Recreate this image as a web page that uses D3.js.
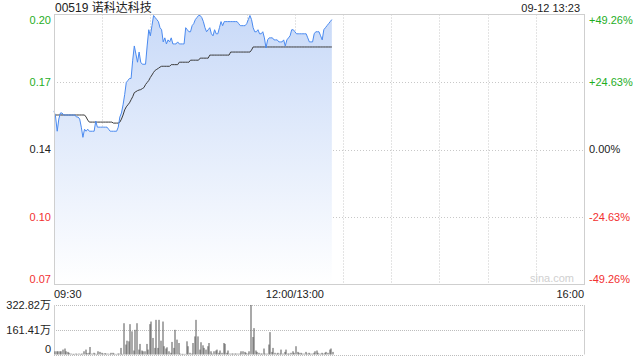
<!DOCTYPE html>
<html>
<head>
<meta charset="utf-8">
<script src="https://cdn.jsdelivr.net/npm/d3@7"></script>
<style>
  body { margin: 0; background: #fff; }
  svg text { font-family: "Liberation Sans", Arial, "Noto Sans CJK SC", sans-serif; }
</style>
</head>
<body>
<div id="chart"></div>
<script>
// chart values
const title = "00519 诺科达科技";
const stamp = "09-12 13:23";
const prevClose = 0.135;

const priceTicks = [0.2015, 0.16825, 0.135, 0.10175, 0.0685];
const priceLabels = ["0.20", "0.17", "0.14", "0.10", "0.07"];
const pctLabels = ["+49.26%", "+24.63%", "0.00%", "-24.63%", "-49.26%"];

const timeTicks = [0, 150, 330];
const timeLabels = ["09:30", "12:00/13:00", "16:00"];

const volTicks = [322.82, 161.41, 0];
const volLabels = ["322.82万", "161.41万", "0"];

// one value per minute from 09:30
const price = [
  0.154, 0.151, 0.144, 0.150, 0.153, 0.153, 0.152, 0.152, 0.152, 0.152,
  0.152, 0.152, 0.152, 0.152, 0.151, 0.151, 0.150, 0.146, 0.141, 0.145,
  0.144, 0.145, 0.144, 0.144, 0.144, 0.144, 0.149, 0.146, 0.146, 0.146,
  0.146, 0.146, 0.146, 0.146, 0.145, 0.144, 0.144, 0.144, 0.144, 0.144,
  0.146, 0.151, 0.153, 0.157, 0.162, 0.168, 0.169, 0.170, 0.170, 0.179,
  0.186, 0.182, 0.178, 0.183, 0.178, 0.177, 0.177, 0.177, 0.186, 0.194,
  0.191, 0.196, 0.201, 0.200, 0.199, 0.198, 0.195, 0.194, 0.188, 0.190,
  0.187, 0.189, 0.188, 0.190, 0.187, 0.187, 0.187, 0.188, 0.187, 0.187,
  0.187, 0.187, 0.195, 0.194, 0.193, 0.193, 0.196, 0.197, 0.199, 0.200,
  0.201, 0.201, 0.200, 0.198, 0.195, 0.193, 0.194, 0.195, 0.192, 0.191,
  0.194, 0.192, 0.192, 0.195, 0.198, 0.196, 0.198, 0.198, 0.198, 0.198,
  0.198, 0.198, 0.198, 0.198, 0.198, 0.197, 0.196, 0.196, 0.196, 0.196,
  0.197, 0.199, 0.201, 0.199, 0.195, 0.193, 0.193, 0.194, 0.192, 0.192,
  0.193, 0.190, 0.185, 0.189, 0.190, 0.190, 0.190, 0.189, 0.189, 0.189,
  0.188, 0.188, 0.188, 0.189, 0.186, 0.189, 0.190, 0.191, 0.194, 0.194,
  0.193, 0.192, 0.192, 0.192, 0.192, 0.192, 0.192, 0.192, 0.190, 0.188,
  0.188, 0.188, 0.192, 0.193, 0.193, 0.193, 0.191, 0.189, 0.194, 0.195,
  0.196, 0.197, 0.198, 0.199
];

const avgPrice = [
  0.152, 0.152, 0.152, 0.152, 0.152, 0.152, 0.152, 0.152, 0.152, 0.152,
  0.152, 0.152, 0.152, 0.152, 0.152, 0.152, 0.152, 0.152, 0.152, 0.152,
  0.151, 0.1495, 0.1485, 0.1485, 0.1485, 0.1485, 0.1485, 0.1485, 0.1485, 0.1485,
  0.1485, 0.1485, 0.1485, 0.1485, 0.1485, 0.1485, 0.1485, 0.148, 0.148, 0.148,
  0.148, 0.1485, 0.150, 0.152, 0.1545, 0.156, 0.157, 0.158, 0.1595, 0.161,
  0.163, 0.1635, 0.164, 0.1643, 0.1645, 0.165, 0.1655, 0.167, 0.168, 0.169,
  0.1705, 0.1717, 0.173, 0.174, 0.1745, 0.175, 0.1756, 0.176, 0.176, 0.176,
  0.176, 0.176, 0.176, 0.1768, 0.1768, 0.1768, 0.1768, 0.1768, 0.178, 0.178,
  0.178, 0.178, 0.178, 0.178, 0.178, 0.179, 0.179, 0.179, 0.179, 0.179,
  0.179, 0.180, 0.180, 0.180, 0.180, 0.180, 0.180, 0.1815, 0.1815, 0.1815,
  0.1815, 0.1815, 0.1815, 0.1815, 0.1815, 0.1815, 0.1815, 0.1815, 0.1815, 0.1815,
  0.183, 0.183, 0.183, 0.183, 0.183, 0.183, 0.183, 0.183, 0.183, 0.183,
  0.183, 0.183, 0.183, 0.184, 0.1855, 0.1855, 0.1855, 0.1855, 0.1855, 0.1855,
  0.1855, 0.1855, 0.1855, 0.1855, 0.1855, 0.1855, 0.1855, 0.1855, 0.1855, 0.1855,
  0.1855, 0.1855, 0.1855, 0.1855, 0.1855, 0.1855, 0.1855, 0.1855, 0.1855, 0.1855,
  0.1855, 0.1855, 0.1855, 0.1855, 0.1855, 0.1855, 0.1855, 0.1855, 0.1855, 0.1855,
  0.1855, 0.1855, 0.1855, 0.1855, 0.1855, 0.1855, 0.1855, 0.1855, 0.1855, 0.1855,
  0.1855, 0.1855, 0.1855, 0.1855
];

// volume in 万 shares
const volume = [
  21, 21, 21, 21, 21, 32, 39, 21, 17, 11,
  6, 4, 4, 6, 4, 6, 4, 6, 21, 32,
  9, 11, 49, 6, 11, 6, 4, 21, 17, 11,
  6, 9, 6, 6, 4, 11, 11, 6, 4, 6,
  6, 43, 4, 204, 65, 90, 86, 198, 151, 26,
  161, 204, 32, 69, 26, 21, 21, 69, 32, 198,
  215, 108, 43, 226, 43, 226, 90, 215, 54, 39,
  47, 21, 11, 82, 43, 161, 97, 75, 6, 4,
  4, 4, 86, 54, 11, 6, 75, 118, 226, 118,
  32, 80, 60, 43, 32, 54, 75, 21, 6, 21,
  26, 32, 11, 26, 11, 75, 69, 11, 26, 6,
  6, 6, 6, 6, 6, 6, 21, 21, 17, 11,
  6, 21, 323, 114, 172, 26, 17, 11, 6, 6,
  39, 6, 6, 65, 146, 17, 43, 11, 6, 11,
  6, 32, 6, 17, 32, 6, 6, 11, 21, 11,
  54, 17, 11, 11, 6, 6, 17, 6, 11, 6,
  6, 11, 21, 26, 11, 6, 11, 6, 11, 17,
  11, 32, 39, 17
];

// layout
let width = 640;
let height = 360;
let plotLeft = 54, plotRight = 584;
let plotTop = 14.5, plotBottom = 284.5;
let volTop = 305, volBottom = 354.5;

let green = "#1fae1f", red = "#f23030", grid = "#c8c8c8";

var svg = d3
    .select("#chart")
    .append("svg")
    .attr("width", width)
    .attr("height", height);

let x = d3.scaleLinear().domain([0, 330]).range([plotLeft, plotRight]);
let y = d3.scaleLinear().domain([priceTicks[4], priceTicks[0]]).range([plotBottom, plotTop]);
let yv = d3.scaleLinear().domain([0, volTicks[0]]).range([volBottom, volTop]);

// gradient for the area
let grad = svg.append("defs").append("linearGradient")
    .attr("id", "fillGrad")
    .attr("x1", 0).attr("y1", 0).attr("x2", 0).attr("y2", 1);
grad.append("stop").attr("offset", "0%").attr("stop-color", "#c9daf8");
grad.append("stop").attr("offset", "100%").attr("stop-color", "#ffffff");

// vertical grid every 30 minutes
svg.append("g")
  .selectAll("line")
  .data(d3.range(30, 330, 30))
  .enter().append("line")
  .attr("x1", (d) => Math.round(x(d)) + 0.5).attr("x2", (d) => Math.round(x(d)) + 0.5)
  .attr("y1", plotTop).attr("y2", plotBottom)
  .attr("stroke", grid)
  .attr("stroke-dasharray", "1,2");

// horizontal grid
svg.append("g")
  .selectAll("line")
  .data(priceTicks.slice(1, 4))
  .enter().append("line")
  .attr("x1", plotLeft).attr("x2", plotRight)
  .attr("y1", (d) => Math.round(y(d)) + 0.5).attr("y2", (d) => Math.round(y(d)) + 0.5)
  .attr("stroke", grid)
  .attr("stroke-dasharray", "1,2");

// area + lines
let area = d3.area()
    .x((d, i) => x(i))
    .y0(plotBottom)
    .y1((d) => y(d));

svg.append("path")
  .datum(price)
  .attr("d", area)
  .attr("fill", "url(#fillGrad)");

svg.append("path")
  .datum(avgPrice)
  .attr("d", d3.line().x((d, i) => x(i)).y((d) => y(d)))
  .attr("fill", "none")
  .attr("stroke", "#3b3b3b")
  .attr("stroke-width", 1);

svg.append("path")
  .datum(price)
  .attr("d", d3.line().x((d, i) => x(i)).y((d) => y(d)))
  .attr("fill", "none")
  .attr("stroke", "#4a8af0")
  .attr("stroke-width", 1);

// frame of price panel
svg.append("rect")
  .attr("x", plotLeft + 0.5).attr("y", plotTop)
  .attr("width", plotRight - plotLeft).attr("height", plotBottom - plotTop)
  .attr("fill", "none")
  .attr("stroke", "#cfcfcf");

// watermark
svg.append("text")
  .attr("x", plotRight - 10).attr("y", plotBottom - 3)
  .attr("text-anchor", "end")
  .style("font-size", "11px")
  .attr("fill", "#d0d0d0")
  .text("sina.com");

// price labels left and percent labels right
let labelColor = (i) => (i < 2 ? green : i > 2 ? red : "#222");
let labelDy = (i) => (i == 0 ? "0.9em" : i == 4 ? "-0.15em" : "0.35em");

svg.append("g")
  .selectAll("text")
  .data(priceTicks)
  .enter().append("text")
  .attr("x", plotLeft - 3)
  .attr("y", (d) => y(d))
  .attr("dy", (d, i) => labelDy(i))
  .attr("text-anchor", "end")
  .style("font-size", "11px")
  .attr("fill", (d, i) => labelColor(i))
  .text((d, i) => priceLabels[i]);

svg.append("g")
  .selectAll("text")
  .data(priceTicks)
  .enter().append("text")
  .attr("x", plotRight + 5)
  .attr("y", (d) => y(d))
  .attr("dy", (d, i) => labelDy(i))
  .style("font-size", "11px")
  .attr("fill", (d, i) => labelColor(i))
  .text((d, i) => pctLabels[i]);

// time labels
svg.append("g")
  .selectAll("text")
  .data(timeTicks)
  .enter().append("text")
  .attr("x", (d) => x(d))
  .attr("y", 298)
  .attr("text-anchor", (d, i) => (i == 0 ? "start" : i == 1 ? "middle" : "end"))
  .style("font-size", "11px")
  .attr("fill", "#222")
  .text((d, i) => timeLabels[i]);

// title and time stamp
svg.append("text")
  .attr("x", plotLeft + 1).attr("y", 12)
  .style("font-size", "12px")
  .attr("fill", "#222")
  .text(title);

svg.append("text")
  .attr("x", plotRight - 4).attr("y", 12)
  .attr("text-anchor", "end")
  .style("font-size", "11px")
  .attr("fill", "#222")
  .text(stamp);

// volume panel
svg.append("g")
  .selectAll("line")
  .data(volTicks)
  .enter().append("line")
  .attr("x1", plotLeft).attr("x2", plotRight)
  .attr("y1", (d) => Math.round(yv(d)) + 0.5).attr("y2", (d) => Math.round(yv(d)) + 0.5)
  .attr("stroke", "#bdbdbd")
  .attr("stroke-dasharray", "1,1");

svg.append("g")
  .selectAll("line")
  .data([plotLeft + 0.5, plotRight + 0.5])
  .enter().append("line")
  .attr("x1", (d) => d).attr("x2", (d) => d)
  .attr("y1", volTop).attr("y2", volBottom)
  .attr("stroke", "#cfcfcf");

svg.append("g")
  .selectAll("rect")
  .data(volume)
  .enter().append("rect")
  .attr("x", (d, i) => Math.round(x(i)) + 0.5)
  .attr("y", (d) => yv(d))
  .attr("width", 1)
  .attr("height", (d) => volBottom - yv(d))
  .attr("fill", "#555");

svg.append("g")
  .selectAll("text")
  .data(volTicks)
  .enter().append("text")
  .attr("x", plotLeft - 3)
  .attr("y", (d) => yv(d))
  .attr("dy", (d, i) => (i == 2 ? "-0.1em" : "0.35em"))
  .attr("text-anchor", "end")
  .style("font-size", "11px")
  .attr("fill", "#222")
  .text((d, i) => volLabels[i]);
</script>
</body>
</html>
